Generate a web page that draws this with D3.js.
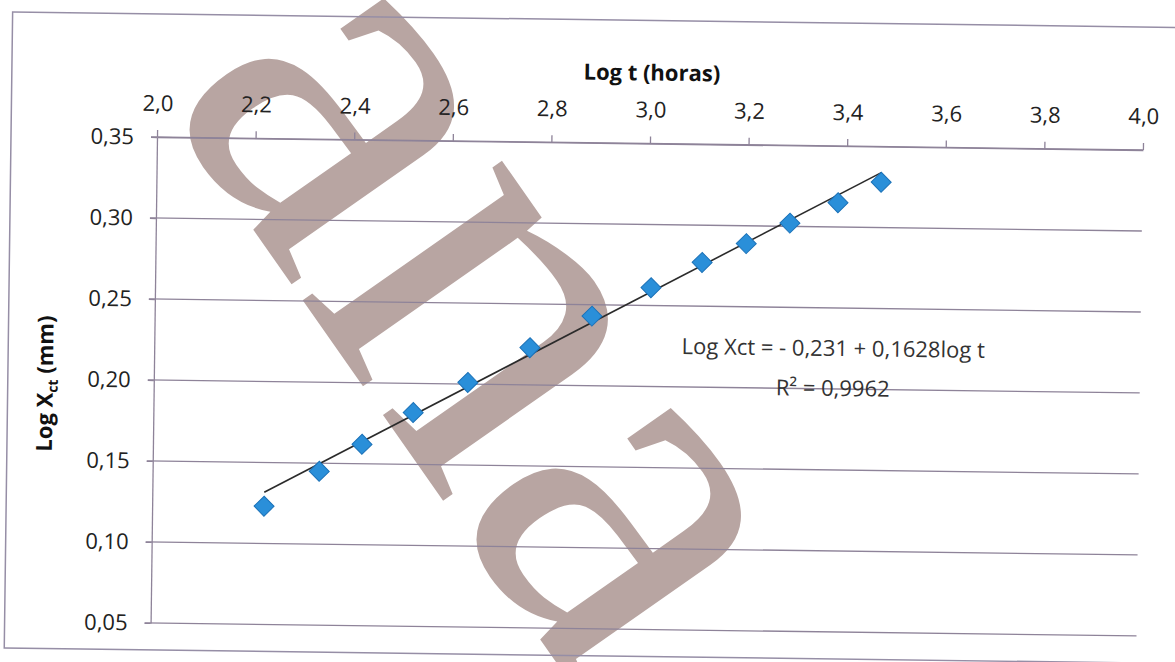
<!DOCTYPE html>
<html>
<head>
<meta charset="utf-8">
<title>Log Xct vs Log t</title>
<script src="https://d3js.org/d3.v7.min.js"></script>
<style>
  body { margin: 0; background: #fff; }
  svg { display: block; font-family: "Open Sans", sans-serif; }
  .grid line { stroke: #8e8399; stroke-width: 1.3; }
  .axis path, .axis line { stroke: #8e8399; stroke-width: 1.3; }
</style>
</head>
<body>
<script>
// data
const logT = [2.227, 2.338, 2.424, 2.527, 2.637, 2.762, 2.887, 3.006, 3.109, 3.198, 3.286, 3.383, 3.470];
const logX = [0.123, 0.145, 0.162, 0.182, 0.201, 0.223, 0.243, 0.261, 0.277, 0.289, 0.302, 0.315, 0.328];
const xTicks = [2.0, 2.2, 2.4, 2.6, 2.8, 3.0, 3.2, 3.4, 3.6, 3.8, 4.0];
const yTicks = [0.05, 0.10, 0.15, 0.20, 0.25, 0.30, 0.35];
const fitA = -0.231, fitB = 0.1628;
const eqLines = ["Log Xct = - 0,231 + 0,1628log t", "R² = 0,9962"];

const width = 1175, height = 662;
const pt = {left: 157, right: 1143, top: 137, bottom: 623};

const svg = d3.select("body").append("svg")
    .attr("width", width)
    .attr("height", height);

// watermark behind everything
svg.append("text")
    .attr("transform", "translate(470,330) rotate(55)")
    .attr("text-anchor", "middle")
    .attr("y", 120)
    .style("font-family", "'Liberation Serif', serif")
    .style("font-size", "530px")
    .attr("fill", "#b8a5a2")
    .text("ana");

// the scan is tilted a little
const g = svg.append("g").attr("transform", "rotate(0.755," + pt.left + "," + pt.top + ")");

const ptBr = d3.formatLocale({decimal: ",", thousands: ".", grouping: [3], currency: ["", ""]});

const x = d3.scaleLinear().domain([2, 4]).range([pt.left, pt.right]);
const y = d3.scaleLinear().domain([0.05, 0.35]).range([pt.bottom, pt.top]);

// chart border
g.append("rect")
    .attr("x", 11).attr("y", 14)
    .attr("width", 1175).attr("height", 636)
    .attr("fill", "none")
    .attr("stroke", "#968ea6")
    .attr("stroke-width", 1.5);

// horizontal gridlines
g.append("g").attr("class", "grid")
  .selectAll("line")
  .data(yTicks)
  .enter().append("line")
    .attr("x1", pt.left - 6)
    .attr("x2", pt.right)
    .attr("y1", d => y(d))
    .attr("y2", d => y(d));

// x axis on top
const xAx = g.append("g")
    .attr("class", "axis")
    .attr("transform", "translate(0," + pt.top + ")")
    .call(d3.axisTop(x).tickValues(xTicks).tickSizeInner(7).tickSizeOuter(0)
      .tickPadding(19).tickFormat(ptBr.format(".1f")));

// y axis
const yAx = g.append("g")
    .attr("class", "axis")
    .attr("transform", "translate(" + pt.left + ",0)")
    .call(d3.axisLeft(y).tickValues(yTicks).tickSizeInner(6).tickSizeOuter(0)
      .tickPadding(17).tickFormat(ptBr.format(".2f")));

[xAx, yAx].forEach(a => {
  a.attr("font-family", "'Open Sans', sans-serif").attr("font-size", 22);
  a.selectAll(".tick text").attr("fill", "#222");
  a.selectAll(".tick line").attr("stroke", "#8e8399");
});

// titles
g.append("text")
    .attr("x", 651).attr("y", 74)
    .attr("text-anchor", "middle")
    .style("font-size", "22px").style("font-weight", "bold")
    .attr("fill", "#111")
    .text("Log t (horas)");

const yt = g.append("text")
    .attr("transform", "translate(56,385) rotate(-90)")
    .attr("text-anchor", "middle")
    .style("font-size", "22px").style("font-weight", "bold")
    .attr("fill", "#111");
yt.append("tspan").text("Log X");
yt.append("tspan").attr("dy", 5).style("font-size", "14px").text("ct");
yt.append("tspan").attr("dy", -5).text(" (mm)");

// trend line
const fitLine = d3.line().x(d => x(d)).y(d => y(fitA + fitB * d));
g.append("path")
    .datum([logT[0], logT[logT.length - 1]])
    .attr("d", fitLine)
    .attr("fill", "none")
    .attr("stroke", "#2b2b2b")
    .attr("stroke-width", 1.6);

// markers
const pts = logT.map((t, i) => ({t: t, v: logX[i]}));
g.append("g").selectAll("path")
  .data(pts)
  .enter().append("path")
    .attr("transform", d => "translate(" + x(d.t) + "," + y(d.v) + ") rotate(45)")
    .attr("d", d3.symbol().type(d3.symbolSquare).size(200))
    .attr("fill", "#2a8fd9")
    .attr("stroke", "#1c72b8")
    .attr("stroke-width", 1);

// equation label
g.append("g").selectAll("text")
  .data(eqLines)
  .enter().append("text")
    .attr("x", 836)
    .attr("y", (d, i) => 347 + i * 40)
    .attr("text-anchor", "middle")
    .style("font-size", "22px")
    .attr("fill", "#333")
    .text(d => d);
</script>
</body>
</html>
